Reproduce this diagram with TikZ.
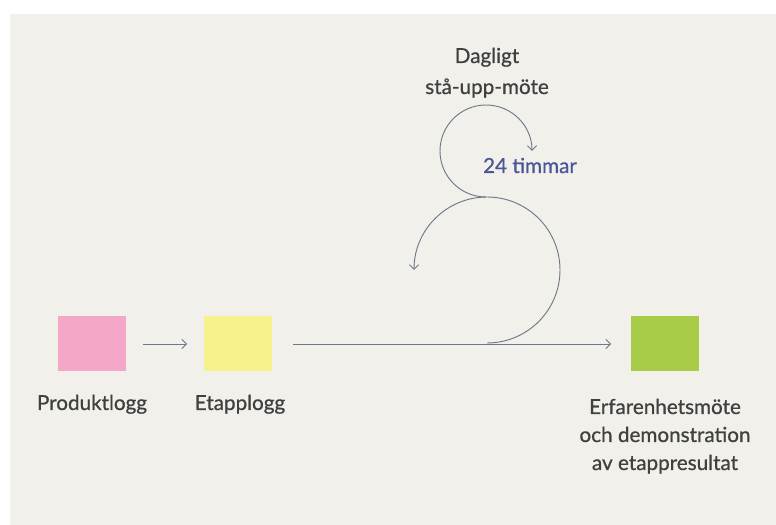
\documentclass[tikz,border=0pt]{standalone}
\usepackage{fontspec}
\setmainfont{Lato}
\newfontfamily\lblfont{Lato}[FakeBold=0.7]
\usetikzlibrary{arrows.meta}
\definecolor{bg}{HTML}{F1F0EA}
\definecolor{pinkbox}{HTML}{F4A7C7}
\definecolor{yellowbox}{HTML}{F8F28C}
\definecolor{greenbox}{HTML}{A8CB48}
\definecolor{txt}{HTML}{404040}
\definecolor{linec}{HTML}{707788}
\definecolor{bluetxt}{HTML}{4A5697}
\begin{document}
\begin{tikzpicture}[x=0.75pt,y=0.75pt,
  sq/.style={minimum width=51pt,minimum height=41.25pt,inner sep=0pt,draw=none},
  lbl/.style={text=txt,font=\lblfont\fontsize{15.5}{21}\selectfont,align=center,inner sep=0pt,anchor=base},
  arr/.style={draw=linec,line width=0.7pt,-{Straight Barb[length=3.5pt,width=7pt]}}]
\useasboundingbox (0,0) rectangle (776,525);
\fill[white] (0,0) rectangle (776,525);
\fill[bg] (10,0) rectangle (776,511);
\node[sq,fill=pinkbox] (pink) at (92,181) {};
\node[sq,fill=yellowbox] (yellow) at (237.5,181) {};
\node[sq,fill=greenbox] (green) at (664.5,181) {};
\node[lbl] (plab) at (92,115) {Produktlogg};
\node[lbl] (elab) at (240,115) {Etapplogg};
\node[lbl] (glab) at (665,55) {Erfarenhetsmöte\\och demonstration\\av etappresultat};
\node[lbl] (dag) at (487,462) {Dagligt};
\node[lbl] (sta) at (487,431) {stå-upp-möte};
\node[lbl,text=bluetxt] (tim) at (530,352) {24 timmar};
\draw[arr,shorten <=12.75pt,shorten >=12pt] (pink) -- (yellow);
\draw[arr,shorten <=15.75pt,shorten >=14.25pt] (yellow) -- (green);
\coordinate (tan) at (487,182);
\coordinate (top) at (486,328);
\draw[arr] (tan) arc[start angle=-90,end angle=180,radius=73];
\draw[arr] (top) arc[start angle=-90,end angle=-360,radius=46];
\end{tikzpicture}
\end{document}
